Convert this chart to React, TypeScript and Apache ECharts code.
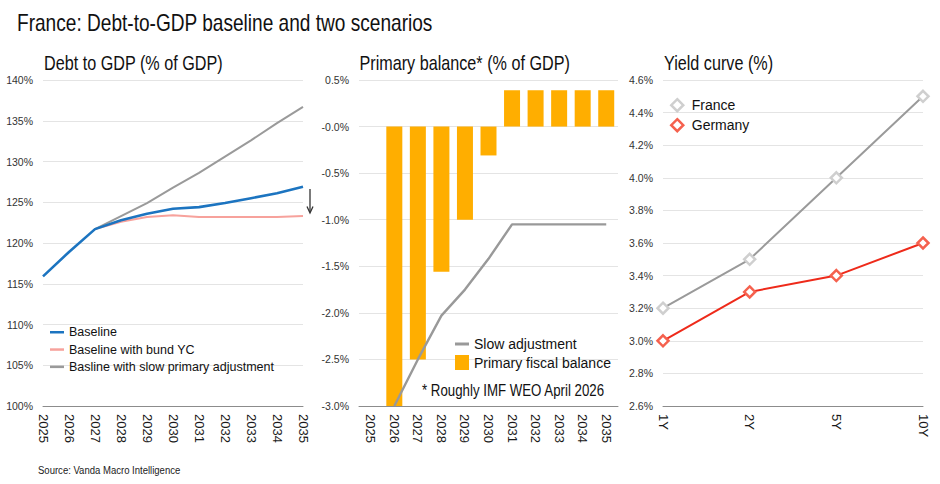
import React, { useEffect, useRef } from "react";
import * as echarts from "echarts";

const years = ["2025", "2026", "2027", "2028", "2029", "2030", "2031", "2032", "2033", "2034", "2035"];
const baseline = [115.9, 118.9, 121.7, 122.8, 123.6, 124.2, 124.4, 124.9, 125.5, 126.1, 126.9];
const bundYC = [null, null, 121.7, 122.6, 123.2, 123.4, 123.2, 123.2, 123.2, 123.2, 123.3];
const slowPrimary = [null, null, 121.7, 123.3, 124.9, 126.8, 128.6, 130.6, 132.6, 134.7, 136.7];

const primaryBalance = [null, -3.3, -2.5, -1.56, -1.0, -0.31, 0.39, 0.39, 0.39, 0.39, 0.39];
const slowAdjustment = [null, -3.0, -2.5, -2.03, -1.75, -1.42, -1.05, -1.05, -1.05, -1.05, -1.05];

const tenors = ["1Y", "2Y", "5Y", "10Y"];
const france = [3.2, 3.5, 4.0, 4.5];
const germany = [3.0, 3.3, 3.4, 3.6];

const SANS = '"Liberation Sans", Arial, sans-serif';
const NARROW_SCALE = 0.83;

const narrowText = (text: string, x: number, y: number, fontSize: number, fill = "#111") => ({
  type: "text",
  x,
  y,
  scaleX: NARROW_SCALE,
  style: { text, fontSize, fontFamily: SANS, fill, verticalAlign: "middle", align: "left" },
});

export default function App() {
  const ref = useRef<HTMLDivElement>(null);
  useEffect(() => {
    if (!ref.current) return;
    const chart = echarts.init(ref.current, null, { renderer: "svg" });

    const xAxisBase = (gridIndex: number, data: string[], boundaryGap: boolean) => ({
      type: "category",
      gridIndex,
      data,
      boundaryGap,
      axisTick: { show: false },
      axisLine: { onZero: false, lineStyle: { color: "#8c8c8c", width: 1 } },
      axisLabel: { rotate: -90, fontSize: 13, color: "#1a1a1a", margin: 8, fontFamily: SANS, interval: 0 },
      splitLine: { show: false },
    });
    const yAxisBase = (gridIndex: number, min: number, max: number, interval: number, fmt: (v: number) => string) => ({
      type: "value",
      gridIndex,
      min,
      max,
      interval,
      axisLine: { show: false },
      axisTick: { show: false },
      axisLabel: { fontSize: 10.5, color: "#333", margin: 10, fontFamily: SANS, formatter: fmt },
      splitLine: { lineStyle: { color: "#e4e4e4", width: 1 } },
    });

    const option: any = {
      animation: false,
      backgroundColor: "#ffffff",
      grid: [
        { left: 43, top: 80, width: 260, height: 326 },
        { left: 359, top: 80, width: 259, height: 326 },
        { left: 663, top: 80, width: 260, height: 326 },
      ],
      xAxis: [
        xAxisBase(0, years, false),
        xAxisBase(1, years, true),
        xAxisBase(2, tenors, false),
      ],
      yAxis: [
        yAxisBase(0, 100, 140, 5, (v: number) => `${v}%`),
        yAxisBase(1, -3, 0.5, 0.5, (v: number) => (Math.abs(v) < 1e-9 ? "-0.0" : v.toFixed(1)) + "%"),
        yAxisBase(2, 2.6, 4.6, 0.2, (v: number) => v.toFixed(1) + "%"),
      ],
      legend: [
        {
          orient: "vertical", left: 50, top: 323.6, padding: 0, itemGap: 0, itemWidth: 14, itemHeight: 2.5,
          icon: "rect",
          textStyle: { fontFamily: SANS, fontSize: 12.5, color: "#111", lineHeight: 17.3 },
          data: ["Baseline", "Baseline with bund YC", "Basline with slow primary adjustment"],
        },
        {
          orient: "vertical", left: 455, top: 334.75, padding: 0, itemGap: 0, itemWidth: 14, itemHeight: 15,
          textStyle: { fontFamily: SANS, fontSize: 14, color: "#111", lineHeight: 18.5 },
          data: [
            { name: "Slow adjustment", icon: "path://M0,0 L14,0 L14,3 L0,3 Z" },
            { name: "Primary fiscal balance", icon: "rect" },
          ],
        },
        {
          orient: "vertical", left: 670, top: 95.2, padding: 0, itemGap: 0, itemWidth: 19, itemHeight: 12,
          textStyle: { fontFamily: SANS, fontSize: 14, color: "#111", lineHeight: 20 },
          data: [
            { name: "France", icon: "path://M6,0 L12,6 L6,12 L0,6 Z", itemStyle: { color: "#ffffff", borderColor: "#cfcfcf", borderWidth: 2.5 } },
            { name: "Germany", icon: "path://M6,0 L12,6 L6,12 L0,6 Z", itemStyle: { color: "#ffffff", borderColor: "#f5614e", borderWidth: 2.5 } },
          ],
        },
      ],
      graphic: [
        narrowText("France: Debt-to-GDP baseline and two scenarios", 17, 23.3, 23),
        narrowText("Debt to GDP (% of GDP)", 44, 63.5, 19.5),
        narrowText("Primary balance* (% of GDP)", 359.5, 63.5, 19.5),
        narrowText("Yield curve (%)", 664, 63.5, 19.5),
        narrowText("* Roughly IMF WEO April 2026", 422, 391, 16),
        narrowText("Source: Vanda Macro Intelligence", 38, 470, 11.5, "#222"),
        { type: "line", shape: { x1: 310, y1: 189, x2: 310, y2: 212 }, style: { stroke: "#333", lineWidth: 1.3 } },
        { type: "polyline", shape: { points: [[307, 206.5], [310, 213], [313, 206.5]] }, style: { stroke: "#333", fill: null, lineWidth: 1.3 } },
      ],
      series: [
        {
          name: "Basline with slow primary adjustment", type: "line", xAxisIndex: 0, yAxisIndex: 0,
          data: slowPrimary, symbol: "none", color: "#9a9a9a", lineStyle: { color: "#9a9a9a", width: 2 }, z: 2,
        },
        {
          name: "Baseline with bund YC", type: "line", xAxisIndex: 0, yAxisIndex: 0,
          data: bundYC, symbol: "none", color: "#f7a29c", lineStyle: { color: "#f7a29c", width: 2 }, z: 3,
        },
        {
          name: "Baseline", type: "line", xAxisIndex: 0, yAxisIndex: 0,
          data: baseline, symbol: "none", color: "#1c74c0", lineStyle: { color: "#1c74c0", width: 2.6 }, z: 4,
        },
        {
          name: "Primary fiscal balance", type: "bar", xAxisIndex: 1, yAxisIndex: 1,
          data: primaryBalance, barWidth: 16, color: "#ffae00", itemStyle: { color: "#ffae00" }, z: 2,
        },
        {
          name: "Slow adjustment", type: "line", xAxisIndex: 1, yAxisIndex: 1,
          data: slowAdjustment, symbol: "none", color: "#999999", lineStyle: { color: "#999999", width: 2.4 }, z: 3,
        },
        {
          name: "France", type: "line", xAxisIndex: 2, yAxisIndex: 2, data: france,
          symbol: "diamond", symbolSize: 11, showSymbol: true,
          lineStyle: { color: "#9a9a9a", width: 2 },
          itemStyle: { color: "#ffffff", borderColor: "#cfcfcf", borderWidth: 2.5 }, z: 3,
        },
        {
          name: "Germany", type: "line", xAxisIndex: 2, yAxisIndex: 2, data: germany,
          symbol: "diamond", symbolSize: 11, showSymbol: true,
          lineStyle: { color: "#ee2a1a", width: 2 },
          itemStyle: { color: "#ffffff", borderColor: "#f5614e", borderWidth: 2.5 }, z: 4,
        },
      ],
    };
    chart.setOption(option);
    return () => chart.dispose();
  }, []);
  return <div ref={ref} style={{ position: "absolute", left: 0, top: 0, width: 940, height: 484 }} />;
}
